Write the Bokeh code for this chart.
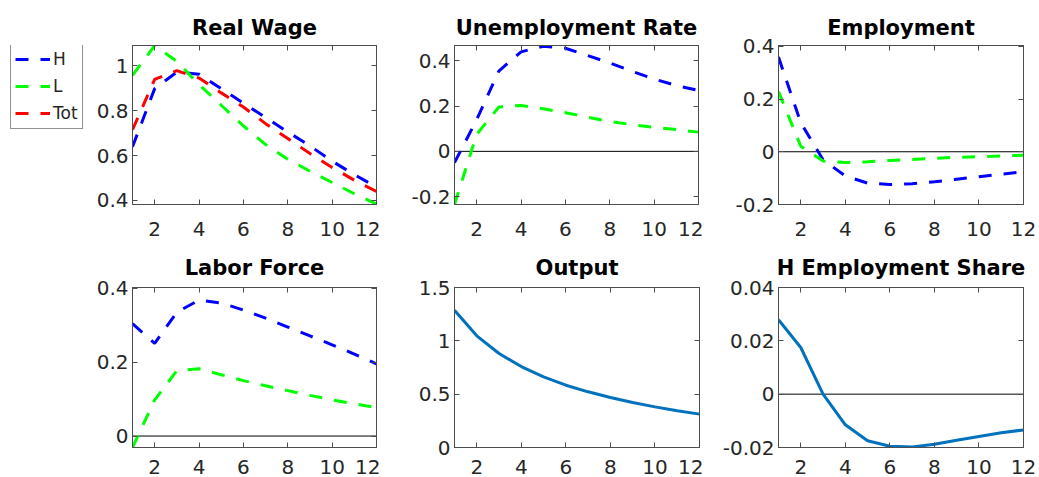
from bokeh.plotting import figure
from bokeh.models import (Range1d, FixedTicker, LinearAxis, Span, Legend, LegendItem,
                          CustomLabelingPolicy, Spacer)
from bokeh.layouts import row, column
from bokeh.embed import file_html
from bokeh.resources import INLINE

# ---- data -------------------------------------------------------------
periods = list(range(1, 13))

wage_h = [0.639, 0.898, 0.972, 0.962, 0.898, 0.833, 0.769, 0.705, 0.643, 0.575, 0.515, 0.460]
wage_l = [0.957, 1.090, 1.019, 0.916, 0.824, 0.732, 0.649, 0.584, 0.530, 0.480, 0.430, 0.384]
wage_tot = [0.715, 0.939, 0.978, 0.945, 0.879, 0.816, 0.742, 0.676, 0.609, 0.547, 0.490, 0.440]

unemp_h = [-0.050, 0.140, 0.355, 0.440, 0.465, 0.456, 0.424, 0.391, 0.354, 0.320, 0.291, 0.269]
unemp_l = [-0.235, 0.075, 0.196, 0.203, 0.188, 0.171, 0.151, 0.132, 0.118, 0.106, 0.096, 0.085]

emp_h = [0.359, 0.110, -0.030, -0.092, -0.119, -0.124, -0.121, -0.114, -0.104, -0.095, -0.085, -0.076]
emp_l = [0.228, 0.021, -0.035, -0.041, -0.038, -0.033, -0.029, -0.025, -0.021, -0.019, -0.016, -0.013]

lf_h = [0.304, 0.251, 0.335, 0.368, 0.360, 0.341, 0.319, 0.295, 0.271, 0.247, 0.222, 0.195]
lf_l = [-0.031, 0.098, 0.177, 0.182, 0.166, 0.150, 0.136, 0.123, 0.110, 0.098, 0.087, 0.077]

output = [1.287, 1.047, 0.881, 0.759, 0.662, 0.584, 0.522, 0.469, 0.422, 0.381, 0.344, 0.313]

h_share = [0.0279, 0.0175, 0.0, -0.0115, -0.0175, -0.0195, -0.0198, -0.0188, -0.0173, -0.0159, -0.0145, -0.0134]

x_ticks = [2, 4, 6, 8, 10, 12]

titles = ["Real Wage", "Unemployment Rate", "Employment",
          "Labor Force", "Output", "H Employment Share"]

y_limits = [(0.382, 1.09), (-0.235, 0.468), (-0.2, 0.403),
            (-0.031, 0.402), (0.0, 1.5), (-0.02, 0.04)]

y_ticks = [[0.4, 0.6, 0.8, 1.0], [-0.2, 0.0, 0.2, 0.4], [-0.2, 0.0, 0.2, 0.4],
           [0.0, 0.2, 0.4], [0.0, 0.5, 1.0, 1.5], [-0.02, 0.0, 0.02, 0.04]]
y_tick_labels = [["0.4", "0.6", "0.8", "1"], ["-0.2", "0", "0.2", "0.4"], ["-0.2", "0", "0.2", "0.4"],
                 ["0", "0.2", "0.4"], ["0", "0.5", "1", "1.5"], ["-0.02", "0", "0.02", "0.04"]]

legend_labels = ["H", "L", "Tot"]

# ---- styling ----------------------------------------------------------
FONT = "DejaVu Sans"
AXIS_COLOR = "#4d4d4d"
TEXT_COLOR = "#262626"
BLUE, GREEN, RED = "#0000ff", "#00ff00", "#ff0000"
SOLID = "#0072bd"
DASH = "13 12"
LW = 3

KEY_W = 90          # width of the legend column on the far left
col_geom = [        # width, min_border_left, min_border_right
    (290, 42, 2),
    (323, 74, 2),
    (336, 75, 16),
]
row_geom = [        # height, min_border_top, min_border_bottom, x-label standoff, title standoff
    (240, 45, 36, 17, 4),
    (237, 47, 30, 12, 8),
]

# tick marks only, no labels, for the mirrored top/right edges
NO_LABELS = CustomLabelingPolicy(code="return new Set()")


def style_axis(ax, show_labels):
    ax.axis_line_color = AXIS_COLOR
    ax.axis_line_width = 1
    ax.major_tick_line_color = AXIS_COLOR
    ax.major_tick_in = 5
    ax.major_tick_out = 0
    ax.minor_tick_line_color = None
    if show_labels:
        ax.major_label_text_font = FONT
        ax.major_label_text_font_size = "20px"
        ax.major_label_text_color = TEXT_COLOR
    else:
        ax.major_label_policy = NO_LABELS
        ax.major_label_text_font_size = "1px"
        ax.major_label_standoff = 0


def make_panel(i, zero_line):
    r, c = divmod(i, 3)
    width, b_left, b_right = col_geom[c]
    height, b_top, b_bottom, x_standoff, t_standoff = row_geom[r]
    p = figure(width=width, height=height,
               x_range=Range1d(1, 12), y_range=Range1d(*y_limits[i]),
               output_backend="svg", toolbar_location=None,
               min_border_left=b_left, min_border_right=b_right,
               min_border_top=b_top, min_border_bottom=b_bottom,
               title=titles[i])
    p.title.text_font = FONT
    p.title.text_font_style = "bold"
    p.title.text_font_size = "21px"
    p.title.text_color = "black"
    p.title.align = "center"
    p.title.standoff = t_standoff
    p.grid.visible = False
    p.outline_line_color = AXIS_COLOR
    p.background_fill_color = "white"
    p.border_fill_color = "white"

    p.xaxis.ticker = FixedTicker(ticks=x_ticks)
    p.yaxis.ticker = FixedTicker(ticks=y_ticks[i])
    p.yaxis.major_label_overrides = dict(zip(y_ticks[i], y_tick_labels[i]))
    for ax in p.xaxis:
        style_axis(ax, True)
        ax.major_label_standoff = x_standoff
    for ax in p.yaxis:
        style_axis(ax, True)
        ax.major_label_standoff = 4

    top_ax = LinearAxis(ticker=FixedTicker(ticks=x_ticks))
    right_ax = LinearAxis(ticker=FixedTicker(ticks=y_ticks[i]))
    style_axis(top_ax, False)
    style_axis(right_ax, False)
    p.add_layout(top_ax, "above")
    p.add_layout(right_ax, "right")

    if zero_line:
        p.add_layout(Span(location=0, dimension="width", line_color="black",
                          line_width=1, level="underlay"))
    return p


panels = [make_panel(i, z) for i, z in enumerate([False, True, True, True, False, True])]

# Real Wage
panels[0].line(periods, wage_h, line_color=BLUE, line_width=LW, line_dash=DASH)
panels[0].line(periods, wage_l, line_color=GREEN, line_width=LW, line_dash=DASH)
panels[0].line(periods, wage_tot, line_color=RED, line_width=LW, line_dash=DASH)

# Unemployment Rate
panels[1].line(periods, unemp_h, line_color=BLUE, line_width=LW, line_dash=DASH)
panels[1].line(periods, unemp_l, line_color=GREEN, line_width=LW, line_dash=DASH)

# Employment
panels[2].line(periods, emp_h, line_color=BLUE, line_width=LW, line_dash=DASH)
panels[2].line(periods, emp_l, line_color=GREEN, line_width=LW, line_dash=DASH)

# Labor Force
panels[3].line(periods, lf_h, line_color=BLUE, line_width=LW, line_dash=DASH)
panels[3].line(periods, lf_l, line_color=GREEN, line_width=LW, line_dash=DASH)

# Output
panels[4].line(periods, output, line_color=SOLID, line_width=LW)

# H Employment Share
panels[5].line(periods, h_share, line_color=SOLID, line_width=LW)

# ---- legend column (H / L / Tot key for the dashed series) -----------
# Its frame lines up with the neighbouring plot frames in the row, so the
# legend offset is measured from the bottom of that shared frame band.
key = figure(width=KEY_W, height=row_geom[0][0], x_range=Range1d(0, 1), y_range=Range1d(0, 1),
             output_backend="svg", toolbar_location=None,
             x_axis_type=None, y_axis_type=None, min_border=0)
key.outline_line_color = None
key.grid.visible = False
key.background_fill_color = "white"
key.border_fill_color = "white"
nan = float("nan")
# style-only entries: a single NaN point, so nothing shows inside the frame
key_lines = [key.line([nan], [nan], line_color=col, line_width=LW, line_dash=DASH)
             for col in (BLUE, GREEN, RED)]
legend = Legend(items=[LegendItem(label=lab, renderers=[r])
                       for lab, r in zip(legend_labels, key_lines)],
                location=(10, 75))
legend.label_text_font = FONT
legend.label_text_font_size = "17px"
legend.label_text_color = TEXT_COLOR
legend.glyph_width = 35
legend.glyph_height = 22
legend.label_height = 22
legend.label_standoff = 3
legend.spacing = 5
legend.padding = 4
legend.margin = 0
legend.border_line_color = TEXT_COLOR
legend.border_line_width = 1
legend.background_fill_color = "white"
legend.background_fill_alpha = 1
key.add_layout(legend)

layout = column(row(key, *panels[:3]),
                row(Spacer(width=KEY_W, height=row_geom[1][0]), *panels[3:]))

open("out.html", "w").write(file_html(layout, INLINE))
